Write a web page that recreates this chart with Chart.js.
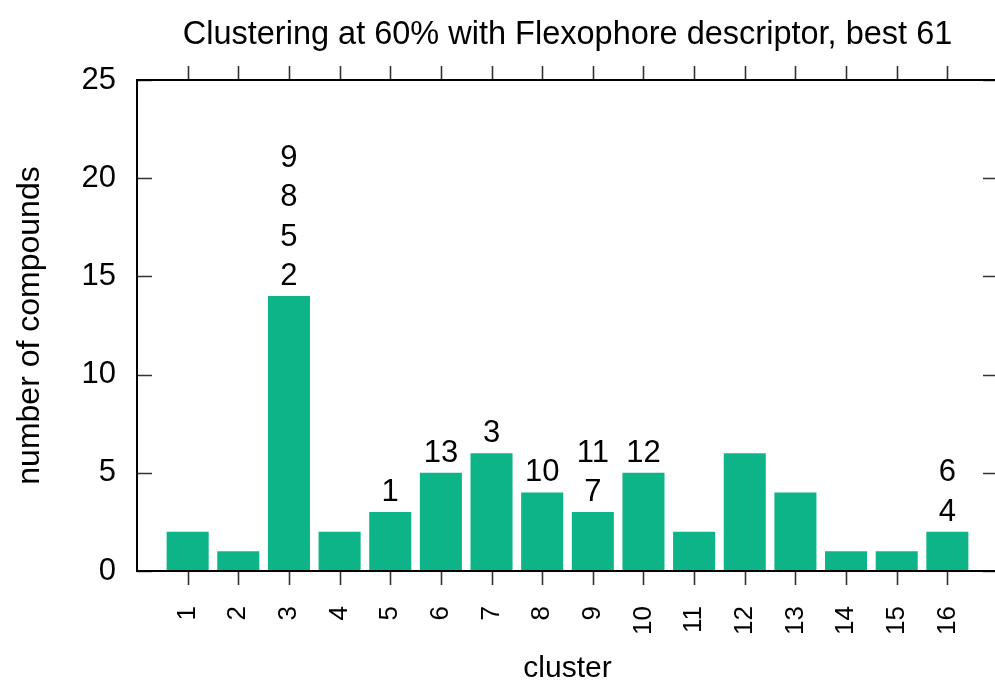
<!DOCTYPE html>
<html>
<head>
<meta charset="utf-8">
<title>Clustering at 60% with Flexophore descriptor</title>
<script src="https://cdn.jsdelivr.net/npm/chart.js@4/dist/chart.umd.min.js"></script>
<style>
  html, body { margin: 0; padding: 0; background: #ffffff; overflow: hidden; }
  #wrap { width: 1000px; height: 687px; }
</style>
</head>
<body>
<div id="wrap"><canvas id="chart" width="1000" height="687"></canvas></div>
<script>
// cluster index on the x axis
const clusters = [1, 2, 3, 4, 5, 6, 7, 8, 9, 10, 11, 12, 13, 14, 15, 16];
// number of compounds in each cluster
const compoundCounts = [2, 1, 14, 2, 3, 5, 6, 4, 3, 5, 2, 6, 4, 1, 1, 2];
// ids of the best compounds that fell into each cluster (listed bottom-up)
const bestMembers = [
  [], [], ['2', '5', '8', '9'], [], ['1'], ['13'], ['3'], ['10'],
  ['7', '11'], ['12'], [], [], [], [], [], ['4', '6']
];
// y axis tick values
const yTickValues = [0, 5, 10, 15, 20, 25];

const FONT = '"Liberation Sans", Arial, Helvetica, sans-serif';
const BAR_COLOR = '#0db488';

// frame with gnuplot-style tick marks: y ticks point inward, x ticks outward
const frameTicks = {
  id: 'frameTicks',
  afterDatasetsDraw(chart) {
    const { ctx, chartArea: a, scales: { x, y } } = chart;
    ctx.save();
    ctx.strokeStyle = '#333333';
    ctx.lineWidth = 1.6;
    ctx.beginPath();
    yTickValues.forEach(v => {
      const py = Math.round(y.getPixelForValue(v)) + 0.5;
      ctx.moveTo(a.left, py); ctx.lineTo(a.left + 15, py);
      ctx.moveTo(a.right, py); ctx.lineTo(a.right - 15, py);
    });
    clusters.forEach(c => {
      const px = Math.round(x.getPixelForValue(c)) + 0.5;
      ctx.moveTo(px, a.bottom); ctx.lineTo(px, a.bottom + 14);
      ctx.moveTo(px, a.top); ctx.lineTo(px, a.top - 14);
    });
    ctx.stroke();
    ctx.strokeStyle = '#000000';
    ctx.lineWidth = 2;
    ctx.strokeRect(a.left, a.top, a.right - a.left, a.bottom - a.top);
    ctx.restore();
  }
};

// member ids stacked above each bar, two units apart
const memberLabels = {
  id: 'memberLabels',
  afterDatasetsDraw(chart) {
    const { ctx, scales: { x, y } } = chart;
    ctx.save();
    ctx.fillStyle = '#000000';
    ctx.font = '31px ' + FONT;
    ctx.textAlign = 'center';
    ctx.textBaseline = 'middle';
    clusters.forEach((c, i) => {
      bestMembers[i].forEach((id, k) => {
        ctx.fillText(id, x.getPixelForValue(c), y.getPixelForValue(compoundCounts[i] + 1 + 2 * k));
      });
    });
    ctx.restore();
  }
};

new Chart(document.getElementById('chart'), {
  type: 'bar',
  data: {
    datasets: [{
      data: clusters.map((c, i) => ({ x: c, y: compoundCounts[i] })),
      backgroundColor: BAR_COLOR,
      borderWidth: 0,
      barPercentage: 0.83,
      categoryPercentage: 1.0
    }]
  },
  options: {
    responsive: false,
    animation: false,
    layout: { padding: { left: 0, right: 2, top: 0, bottom: 0 } },
    plugins: {
      legend: { display: false },
      tooltip: { enabled: false },
      title: {
        display: true,
        fullSize: false,
        text: 'Clustering at 60% with Flexophore descriptor, best 61',
        color: '#000000',
        font: { family: FONT, size: 32.5, weight: 'normal' },
        padding: { top: 16, bottom: 25 }
      }
    },
    scales: {
      x: {
        type: 'linear',
        offset: false,
        min: 0,
        max: 17,
        afterBuildTicks: s => { s.ticks = clusters.map(v => ({ value: v })); },
        afterFit: s => { s.height = 116; s.paddingLeft = 0; s.paddingRight = 0; },
        grid: { display: false, drawTicks: false, offset: false },
        border: { display: false },
        ticks: {
          color: '#000000',
          font: { family: FONT, size: 26 },
          minRotation: 90,
          maxRotation: 90,
          padding: 35,
          autoSkip: false
        },
        title: {
          display: true,
          text: 'cluster',
          color: '#000000',
          font: { family: FONT, size: 30 },
          padding: { top: 0, bottom: 0 }
        }
      },
      y: {
        min: 0,
        max: 25,
        afterBuildTicks: s => { s.ticks = yTickValues.map(v => ({ value: v })); },
        afterFit: s => { s.width = 137; },
        grid: { display: false, drawTicks: false },
        border: { display: false },
        ticks: {
          color: '#000000',
          font: { family: FONT, size: 31 },
          padding: 21
        },
        title: {
          display: true,
          text: 'number of compounds',
          color: '#000000',
          font: { family: FONT, size: 32 },
          padding: { top: 11, bottom: 0 }
        }
      }
    }
  },
  plugins: [frameTicks, memberLabels]
});
</script>
</body>
</html>
